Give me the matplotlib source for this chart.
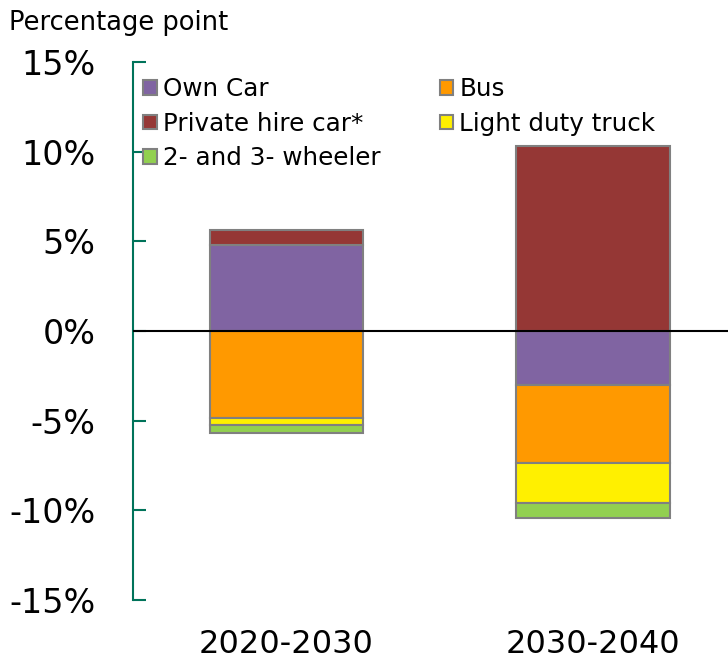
import numpy as np
import matplotlib.pyplot as plt
from matplotlib.patches import Patch

# change in mode share, percentage points
periods = ['2020-2030', '2030-2040']
own_car = [4.8, -3.0]
private_hire = [0.85, 10.3]
bus = [-4.85, -4.35]
light_truck = [-0.4, -2.25]
wheeler = [-0.45, -0.8]

series = [
    ('Own Car', own_car, '#8064A2'),
    ('Private hire car*', private_hire, '#953735'),
    ('Bus', bus, '#FF9900'),
    ('Light duty truck', light_truck, '#FFF000'),
    ('2- and 3- wheeler', wheeler, '#92D050'),
]

green = '#00735A'
plt.rcParams['font.family'] = ['DejaVu Sans']

fig = plt.figure(figsize=(7.28, 6.63), dpi=100)
ax = fig.add_axes([0.1827, 0.095, 0.83, 0.8115])

x = np.arange(len(periods))
pos = np.zeros(len(periods))
neg = np.zeros(len(periods))
for name, vals, col in series:
    vals = np.array(vals)
    bottom = np.where(vals >= 0, pos, neg)
    ax.bar(x, vals, width=0.5, bottom=bottom, color=col,
           edgecolor='#808080', linewidth=1.5, zorder=2)
    pos = pos + np.clip(vals, 0, None)
    neg = neg + np.clip(vals, None, 0)

ax.axhline(0, color='black', linewidth=1.5, zorder=3)

ax.set_ylim(-15, 15)
ax.set_xlim(-0.5, 1.47)
ax.set_yticks(np.arange(-15, 16, 5))
ax.set_yticklabels([f'{v}%' for v in range(-15, 16, 5)])
ax.set_xticks(x)
ax.set_xticklabels(periods)

for s in ['top', 'right', 'bottom']:
    ax.spines[s].set_visible(False)
ax.spines['left'].set_color(green)
ax.spines['left'].set_linewidth(1.5)
ax.tick_params(axis='y', direction='in', length=9.5, width=1.5,
               color=green, labelsize=24, pad=27)
ax.tick_params(axis='x', length=0, labelsize=23, pad=21)

fig.text(0.012, 0.966, 'Percentage point', fontsize=18.5, va='center', ha='left')

order = [0, 1, 4, 2, 3]
handles = [Patch(facecolor=series[i][2], edgecolor='#808080', linewidth=1.5)
           for i in order]
labels = [series[i][0] for i in order]
ax.legend(handles, labels, ncol=2, loc='upper left',
          bbox_to_anchor=(0.005, 0.985), frameon=False, fontsize=17.7,
          handlelength=0.55, handleheight=0.55, handletextpad=0.25,
          labelspacing=0.42, columnspacing=2.4, borderpad=0.1,
          borderaxespad=0.2)

fig.savefig('out.png', dpi=100)
